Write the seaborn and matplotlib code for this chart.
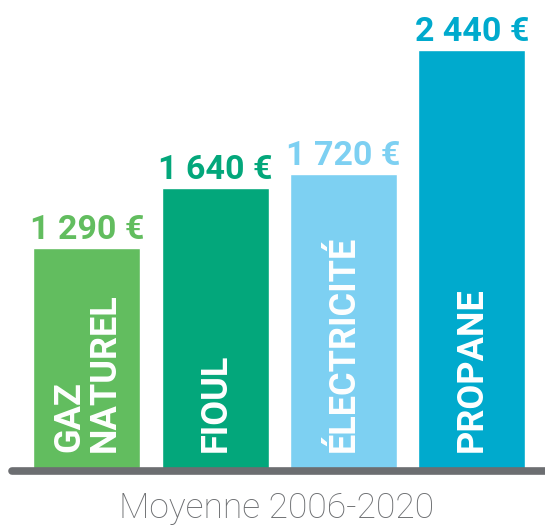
import matplotlib.pyplot as plt
import seaborn as sns
import pandas as pd

sns.set_theme(style="white")
plt.rcParams['font.family'] = ['Roboto', 'DejaVu Sans']

# data
energies = ['GAZ\nNATUREL', 'FIOUL', 'ÉLECTRICITÉ', 'PROPANE']
costs = [1290, 1640, 1720, 2440]
colors = ['#62BD5F', '#03A77B', '#7DD0F2', '#00AACD']
caption = 'Moyenne 2006-2020'

df = pd.DataFrame({'energie': energies, 'cout': costs})

fig = plt.figure(figsize=(5.45, 5.26), dpi=100)
ax = fig.add_axes([0, 55 / 526, 1, 471 / 526])

sns.barplot(data=df, x='energie', y='cout', hue='energie', palette=colors,
            width=0.834, legend=False, saturation=1, ax=ax)

ax.set_xlim(-0.678, 3.570)
ax.set_ylim(0, 2440 * 471 / 421)
ax.axis('off')

# baseline
ax.axhline(0, xmin=12 / 545, xmax=1.02, color='#6C6E71', linewidth=5.5,
           solid_capstyle='round', zorder=5, clip_on=False)

for i, (name, v, c) in enumerate(zip(energies, costs, colors)):
    label = f"{v:,}".replace(",", " ") + " €"
    ax.annotate(label, (i, v), xytext=(0, 6.5), textcoords='offset points',
                ha='center', va='baseline', fontsize=24.5, fontweight='bold',
                color=c)
    ax.annotate(name, (i, 0), xytext=(0, 14), textcoords='offset points',
                rotation=90, ha='center', va='bottom', multialignment='left',
                fontsize=26, fontweight='bold', color='white', linespacing=1.0)

fig.text(277 / 545, (526 - 518) / 526, caption, ha='center', va='baseline',
         fontsize=25.5, fontweight='light', color='#6C6E71')

fig.savefig('out.png', dpi=100)
